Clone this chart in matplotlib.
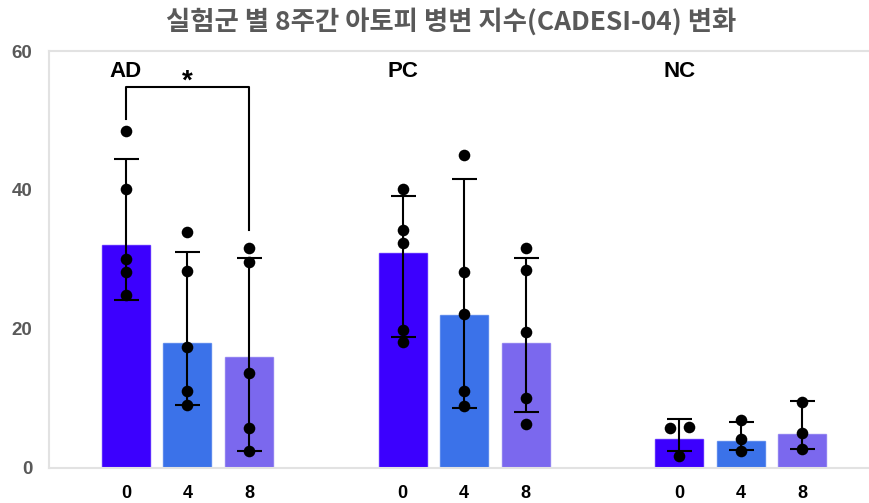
import numpy as np
import matplotlib.pyplot as plt

plt.rcParams['font.family'] = ['Liberation Sans', 'Noto Sans CJK KR', 'DejaVu Sans']

title = "실험군 별 8주간 아토피 병변 지수(CADESI-04) 변화"
groups = ["AD", "PC", "NC"]
weeks = ["0", "4", "8"]

# bar means, per group: week 0, 4, 8
means = [
    [32.1, 18.0, 15.9],
    [31.0, 22.0, 18.0],
    [4.2, 3.9, 4.9],
]
# error bar ends (low, high)
err_low = [
    [24.2, 9.0, 2.4],
    [18.8, 8.7, 8.0],
    [2.5, 2.6, 2.8],
]
err_high = [
    [44.5, 31.1, 30.2],
    [39.2, 41.6, 30.2],
    [7.1, 6.6, 9.6],
]
# individual animals
points = [
    [[48.5, 40.2, 30.1, 28.2, 24.9],
     [33.9, 28.3, 17.4, 11.1, 9.0],
     [31.7, 29.7, 13.6, 5.8, 2.4]],
    [[40.2, 34.3, 32.4, 19.9, 18.1],
     [45.0, 28.2, 22.2, 11.1, 8.9],
     [31.7, 28.5, 19.5, 10.1, 6.3]],
    [[5.8, 5.9, 1.7],
     [6.9, 4.1, 2.4],
     [9.5, 5.0, 2.8]],
]
colors = ["#3c00fe", "#3b72e9", "#7b68ee"]

fig = plt.figure(figsize=(8.69, 5.03), dpi=100)
ax = fig.add_axes([0.0564, 0.0696, 0.95, 0.829])

gap = 4.5
xs_all = []
for g in range(len(groups)):
    xs = np.arange(3) + g * gap
    xs_all.extend(xs)
    ax.bar(xs, means[g], width=0.78, color=colors, edgecolor=[c + "aa" for c in colors],
           linewidth=1, zorder=2)
    m = np.array(means[g])
    lo = m - np.array(err_low[g])
    hi = np.array(err_high[g]) - m
    ax.errorbar(xs, m, yerr=[lo, hi], fmt="none", ecolor="black", elinewidth=1.5,
                capsize=9, capthick=1.5, zorder=3)
    for i in range(3):
        vals = points[g][i]
        offs = np.zeros(len(vals))
        # spread points that would sit on top of each other
        for a in range(len(vals)):
            for b in range(a + 1, len(vals)):
                if abs(vals[a] - vals[b]) < 1.0:
                    offs[a] -= 0.155
                    offs[b] += 0.155
        ax.scatter(xs[i] + offs, vals, s=70, color="black", zorder=4, linewidths=0)
    ax.text(xs[0], 57.1, groups[g], ha="center", va="center", fontsize=16,
            fontweight="bold", color="black")

# significance bracket AD week 0 vs week 8
ax.plot([0, 0, 2, 2], [50.2, 54.8, 54.8, 34.3], color="black", lw=1.5, zorder=3)
ax.text(1.0, 55.6, "*", ha="center", va="center", fontsize=20, fontweight="bold")

# 61.5 px per bar step, axes starts at 49 px
ax.set_xlim(-1.25, -1.25 + 0.95 * 869 / 61.5)
ax.set_ylim(0, 60)
ax.set_yticks([0, 20, 40, 60])
ax.set_xticks(xs_all)
ax.set_xticklabels(weeks * 3)
ax.tick_params(axis="both", length=0)
ax.tick_params(axis="y", pad=12, labelcolor="#595959")
ax.tick_params(axis="x", pad=12, labelcolor="black")
for lab in ax.get_xticklabels():
    lab.set_fontweight("bold")
    lab.set_fontsize(13)
for lab in ax.get_yticklabels():
    lab.set_fontweight("bold")
    lab.set_fontsize(13.5)
for s in ax.spines.values():
    s.set_color("#e2e2e2")
    s.set_linewidth(1.5)

fig.text(0.519, 0.957, title, ha="center", va="center", fontsize=19,
         fontweight="bold", color="#595959", family=["Noto Sans CJK KR", "DejaVu Sans"])

fig.savefig("out.png", dpi=100)
